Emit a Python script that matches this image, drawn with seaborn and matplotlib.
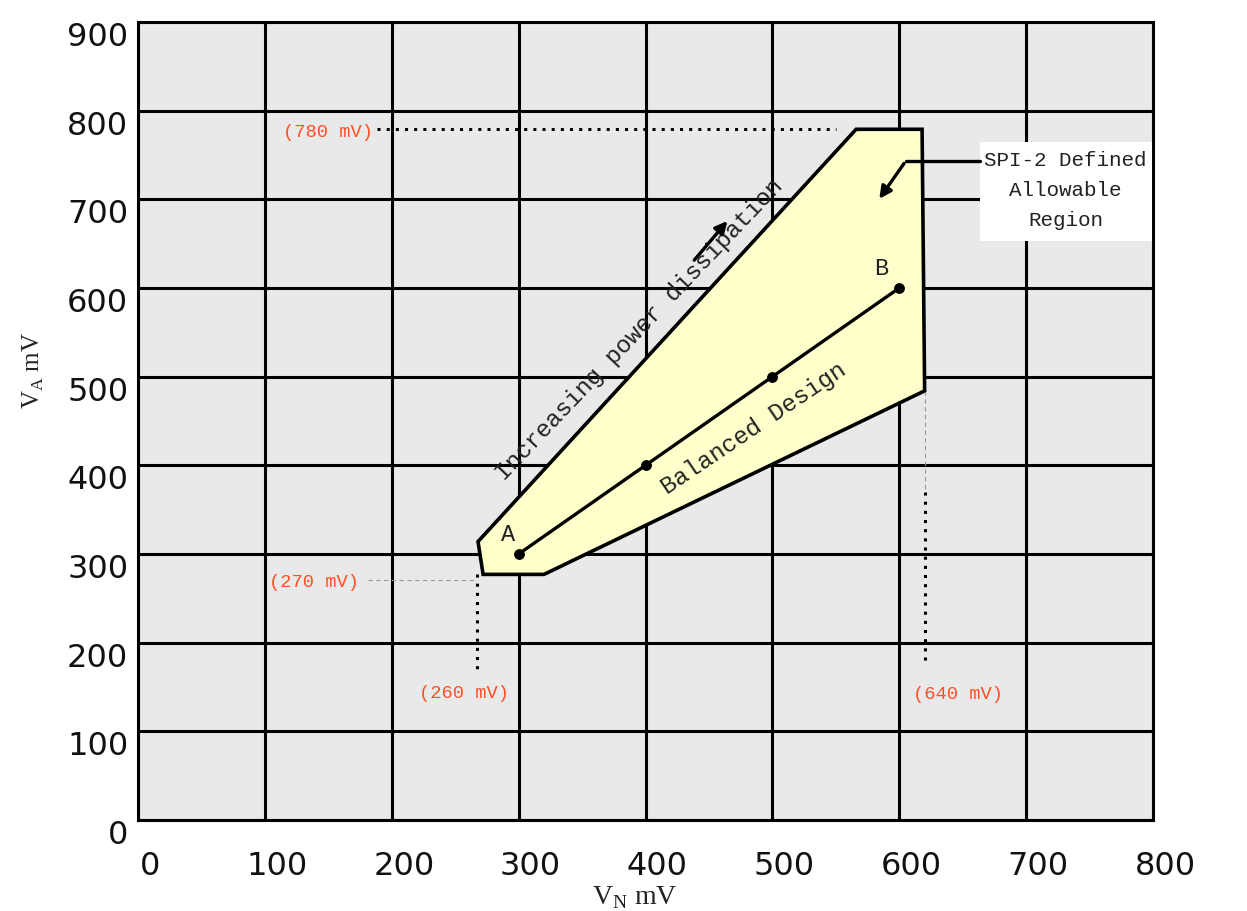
import matplotlib
matplotlib.use("Agg")
import matplotlib.pyplot as plt
import matplotlib.transforms as mtransforms
from matplotlib.patches import Rectangle
import seaborn as sns

# 允许区域的多边形顶点 (V_N, V_A), 单位 mV
region_vn = [268, 272, 320, 620, 618, 566]
region_va = [314, 277, 277, 484, 779, 779]

# 平衡设计线上的点 A ... B
balanced_vn = [300, 400, 500, 600]
balanced_va = [300, 400, 500, 600]

# 坐标刻度
x_ticks = [0, 100, 200, 300, 400, 500, 600, 700, 800]
y_ticks = [0, 100, 200, 300, 400, 500, 600, 700, 800, 900]

# 边界标注 (文字, x, y)
bound_labels = ["(780 mV)", "(270 mV)", "(260 mV)", "(640 mV)"]
bound_x = [150, 139, 257, 646]
bound_y = [775, 268, 143, 142]

# 虚线引导线
guide_780_x = [188, 550]
guide_780_y = [779, 779]
guide_270_x = [181, 267]
guide_270_y = [271, 271]
guide_260_x = [267, 267]
guide_260_y = [277, 167]
guide_640_x = [620, 620]
guide_640_y = [370, 175]

sns.set_style("white")
mono = "Liberation Mono"
red = "#ff5022"

fig = plt.figure(figsize=(12.47, 9.11), dpi=100)
ax = fig.add_axes([138 / 1247, 91 / 911, 1015 / 1247, 798 / 911])
ax.set_facecolor("#e9e9e9")
ax.set_xlim(0, 800)
ax.set_ylim(0, 900)
ax.set_xticks(x_ticks)
ax.set_yticks(y_ticks)
ax.grid(True, color="black", linewidth=2.2, zorder=1)
ax.set_axisbelow(True)
for s in ax.spines.values():
    s.set_color("black")
    s.set_linewidth(2.2)
ax.tick_params(length=0, labelsize=23, colors="#111111")
ax.tick_params(axis="x", pad=22)
ax.tick_params(axis="y", pad=7)

# 刻度文字稍微偏移, 跟原图一样
dx = mtransforms.ScaledTranslation(0.12, 0, fig.dpi_scale_trans)
dy = mtransforms.ScaledTranslation(0, -0.12, fig.dpi_scale_trans)
for lab in ax.get_xticklabels():
    lab.set_transform(lab.get_transform() + dx)
for lab in ax.get_yticklabels():
    lab.set_transform(lab.get_transform() + dy)

# 允许区域
ax.fill(region_vn, region_va, facecolor="#ffffcc", edgecolor="black",
        linewidth=2.6, zorder=3)

# 平衡设计线
sns.lineplot(x=balanced_vn, y=balanced_va, color="black", linewidth=2.4,
             marker="o", markersize=7, markeredgecolor="black", ax=ax, zorder=5)
ax.text(292, 322, "A", family=mono, fontsize=17, ha="center", va="center", color="#222222", zorder=6)
ax.text(586, 622, "B", family=mono, fontsize=17, ha="center", va="center", color="#222222", zorder=6)

# 虚线
ax.plot(guide_780_x, guide_780_y, color="black", linewidth=2.2, linestyle=(0, (1, 2)), zorder=2)
ax.plot(guide_270_x, guide_270_y, color="#999999", linewidth=0.8, linestyle=(0, (4, 3)), zorder=2)
ax.plot(guide_260_x, guide_260_y, color="black", linewidth=2.2, linestyle=(0, (1, 2)), zorder=2)
ax.plot([620, 620], [484, 370], color="#999999", linewidth=0.8, linestyle=(0, (4, 3)), zorder=2)
ax.plot(guide_640_x, guide_640_y, color="black", linewidth=2.2, linestyle=(0, (1, 2)), zorder=2)

for t, x, y in zip(bound_labels, bound_x, bound_y):
    ax.text(x, y, t, family=mono, fontsize=13.5, color=red, ha="center", va="center", zorder=6)

# 斜向文字
ax.text(395, 553, "Increasing power dissipation", family=mono, fontsize=17.5,
        rotation=46.5, rotation_mode="anchor", ha="center", va="center", color="#222222", zorder=6)
ax.text(485, 441, "Balanced Design", family=mono, fontsize=17.5,
        rotation=34, rotation_mode="anchor", ha="center", va="center", color="#222222", zorder=6)
ax.annotate("", xy=(466, 678), xytext=(437, 629),
            arrowprops=dict(arrowstyle="-|>", color="black", lw=2.4, mutation_scale=18), zorder=6)

# 说明框
ax.add_patch(Rectangle((664, 653), 135, 112, facecolor="white", edgecolor="none", zorder=4))
ax.text(731, 710, "SPI-2 Defined\nAllowable\nRegion", family=mono, fontsize=15,
        ha="center", va="center", linespacing=1.75, color="#222222", zorder=6)
ax.plot([664, 605], [743, 743], color="black", linewidth=2.4, zorder=5)
ax.annotate("", xy=(583, 698), xytext=(605, 743),
            arrowprops=dict(arrowstyle="-|>", color="black", lw=2.4, mutation_scale=18), zorder=6)

# 坐标轴标题
fig.text(635 / 1247, 1 - 898 / 911, r"V$_\mathregular{N}$ mV", family="Liberation Serif",
         fontsize=20, ha="center", va="center", color="#222222")
fig.text(33 / 1247, 1 - 370 / 911, r"V$_\mathregular{A}$ mV", family="Liberation Serif",
         fontsize=18, rotation=90, ha="center", va="center", color="#222222")

fig.savefig("out.png", dpi=100)
